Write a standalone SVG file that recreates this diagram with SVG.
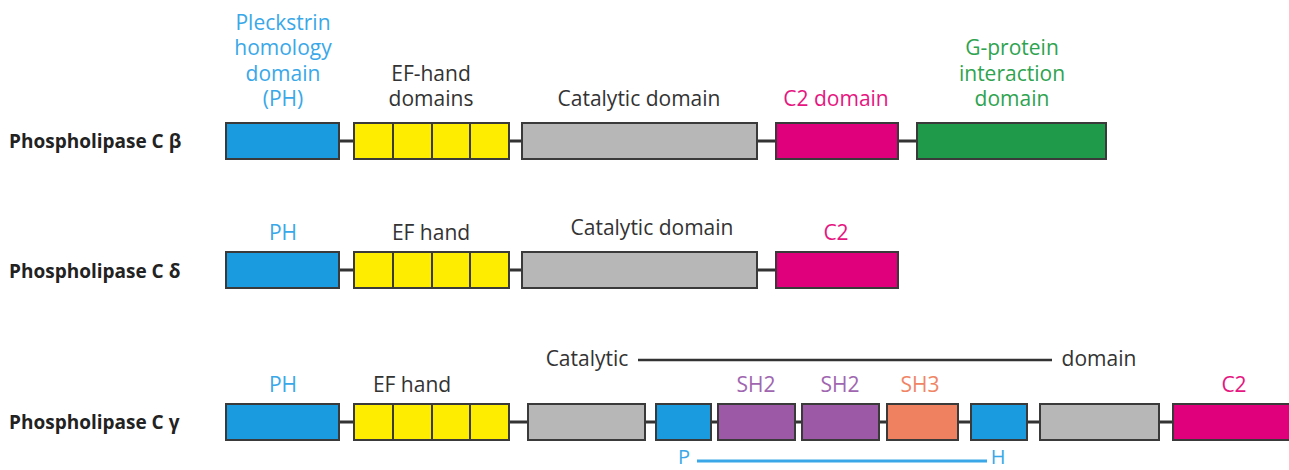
<svg xmlns="http://www.w3.org/2000/svg" width="1289" height="470" viewBox="0 0 1289 470">
<style>
text{font-family:"Open Sans","Noto Sans",sans-serif;font-size:21px;text-anchor:middle}
.name{font-weight:bold;font-size:19px;text-anchor:start;fill:#222}
.k{fill:#333}
.tb{fill:#3aa8e8}
.tp{fill:#e6157f}
.tg{fill:#2ea350}
.tv{fill:#a066b0}
.to{fill:#f08565}
.sm{font-size:20px}
.box{stroke:#3a3a3a;stroke-width:2}
.ph{fill:#1a9be0}
.ef{fill:#ffed00}
.cat{fill:#b7b7b7}
.c2{fill:#e0007b}
.gp{fill:#1f9a4b}
.sh2{fill:#9b59a6}
.sh3{fill:#ef8060}
.ln{stroke:#333;stroke-width:3;fill:none}
.div{stroke:#3a3a3a;stroke-width:2}
</style>
<g id="connectors">
<path class="ln" d="M339 141H354M509 141H522M757 141H776M898 141H917"/>
<path class="ln" d="M339 270H354M509 270H522M757 270H776"/>
<path class="ln" d="M339 422H354M509 422H528M645 422H656M711 422H718M795 422H802M879 422H887M958 422H971M1027 422H1040M1159 422H1173"/>
<path stroke="#333" stroke-width="2.5" d="M638 360H1052"/>
<path stroke="#3aa8e8" stroke-width="3" d="M697 461H987"/>
</g>
<g id="row-beta">
<text class="name" x="9" y="148">Phospholipase C β</text>
<g id="b-ph"><rect class="box ph" x="226" y="123" width="113" height="36"/>
<text class="tb"><tspan x="283" y="30">Pleckstrin</tspan><tspan x="283" y="55">homology</tspan><tspan x="283" y="81">domain</tspan><tspan x="283" y="106">(PH)</tspan></text></g>
<g id="b-ef"><rect class="box ef" x="354" y="123" width="155" height="36"/>
<path class="div" d="M393 123V159M432 123V159M470 123V159"/>
<text class="k"><tspan x="431" y="81">EF-hand</tspan><tspan x="431" y="106">domains</tspan></text></g>
<g id="b-cat"><rect class="box cat" x="522" y="123" width="235" height="36"/>
<text class="k" x="639" y="106">Catalytic domain</text></g>
<g id="b-c2"><rect class="box c2" x="776" y="123" width="122" height="36"/>
<text class="tp" x="836" y="106">C2 domain</text></g>
<g id="b-g"><rect class="box gp" x="917" y="123" width="189" height="36"/>
<text class="tg"><tspan x="1012" y="55">G-protein</tspan><tspan x="1012" y="81">interaction</tspan><tspan x="1012" y="106">domain</tspan></text></g>
</g>
<g id="row-delta">
<text class="name" x="9" y="278">Phospholipase C δ</text>
<g id="d-ph"><rect class="box ph" x="226" y="252" width="113" height="36"/>
<text class="tb" x="283" y="240">PH</text></g>
<g id="d-ef"><rect class="box ef" x="354" y="252" width="155" height="36"/>
<path class="div" d="M393 252V288M432 252V288M470 252V288"/>
<text class="k" x="431" y="240">EF hand</text></g>
<g id="d-cat"><rect class="box cat" x="522" y="252" width="235" height="36"/>
<text class="k" x="652" y="235">Catalytic domain</text></g>
<g id="d-c2"><rect class="box c2" x="776" y="252" width="122" height="36"/>
<text class="tp" x="836" y="240">C2</text></g>
</g>
<g id="row-gamma">
<text class="name" x="9" y="429">Phospholipase C γ</text>
<g id="g-ph"><rect class="box ph" x="226" y="404" width="113" height="36"/>
<text class="tb" x="283" y="392">PH</text></g>
<g id="g-ef"><rect class="box ef" x="354" y="404" width="155" height="36"/>
<path class="div" d="M393 404V440M432 404V440M470 404V440"/>
<text class="k" x="412" y="392">EF hand</text></g>
<g id="g-cat1"><rect class="box cat" x="528" y="404" width="117" height="36"/>
<text class="k" x="587" y="366">Catalytic</text></g>
<g id="g-ph1"><rect class="box ph" x="656" y="404" width="55" height="36"/>
<text class="tb sm" x="684" y="464">P</text></g>
<g id="g-sh2a"><rect class="box sh2" x="718" y="404" width="77" height="36"/>
<text class="tv" x="756" y="392">SH2</text></g>
<g id="g-sh2b"><rect class="box sh2" x="802" y="404" width="77" height="36"/>
<text class="tv" x="840" y="392">SH2</text></g>
<g id="g-sh3"><rect class="box sh3" x="887" y="404" width="71" height="36"/>
<text class="to" x="920" y="392">SH3</text></g>
<g id="g-ph2"><rect class="box ph" x="971" y="404" width="56" height="36"/>
<text class="tb sm" x="998" y="464">H</text></g>
<g id="g-cat2"><rect class="box cat" x="1040" y="404" width="119" height="36"/>
<text class="k" x="1099" y="366">domain</text></g>
<g id="g-c2"><rect class="box c2" x="1173" y="404" width="120" height="36"/>
<text class="tp" x="1234" y="392">C2</text></g>
</g>
</svg>
